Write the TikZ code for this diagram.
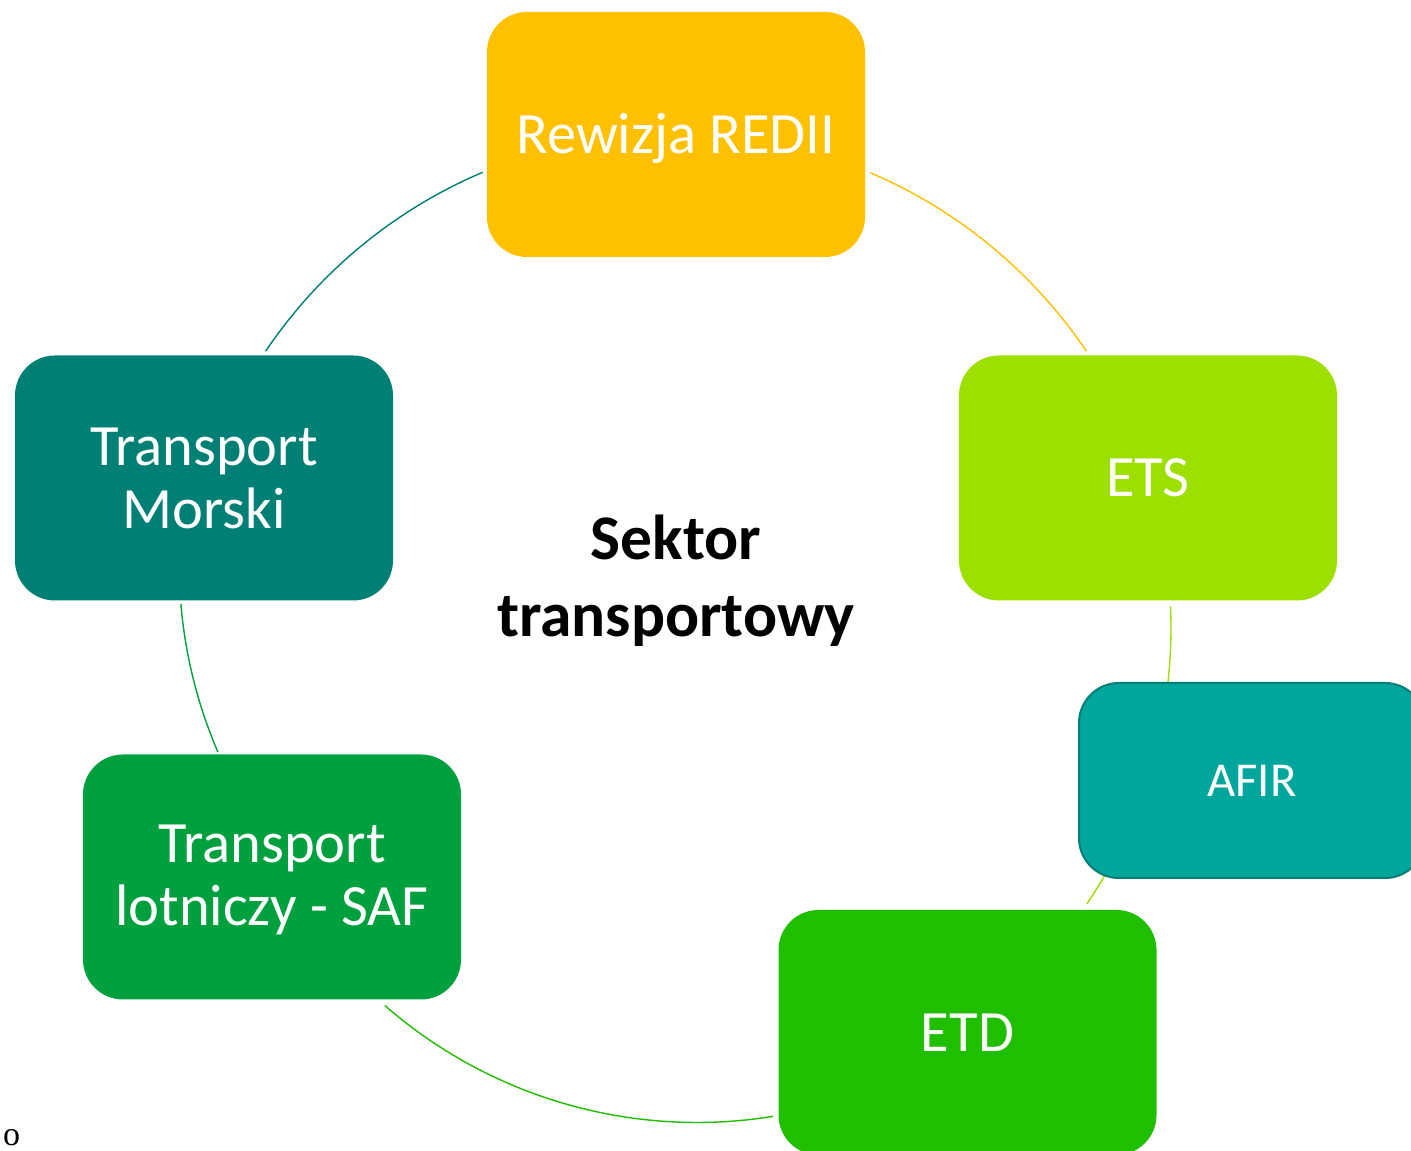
\documentclass[tikz,border=0pt]{standalone}
\usepackage{fontspec}
\setmainfont{Carlito}
\newfontfamily\strayfont{Liberation Serif}
\usetikzlibrary{calc}
\definecolor{cRed}{HTML}{FFC000}
\definecolor{cEts}{HTML}{9CDF00}
\definecolor{cAfir}{HTML}{00A59B}
\definecolor{cAfirB}{HTML}{007D75}
\definecolor{cEtd}{HTML}{1FBF00}
\definecolor{cSaf}{HTML}{00A03E}
\definecolor{cMor}{HTML}{007F74}
\tikzset{
  x=1pt,y=1pt,
  boxnode/.style={rounded corners=40pt, minimum width=378pt, minimum height=245pt,
    inner sep=0pt, text=white, align=center, font=\fontsize{58.5}{63}\selectfont},
  onelinebox/.style={boxnode, text height=37.7pt, text depth=0pt},
  ring/.style={line width=1.4pt},
}
\begin{document}
\begin{tikzpicture}
\useasboundingbox (0,0) rectangle (1411,1151);
\clip (0,0) rectangle (1411,1151);
\fill[white] (0,0) rectangle (1411,1151);
\coordinate (c) at (676,523);
\coordinate (cb) at (697,503.5);
\coordinate (cl) at (654.2,586.7);
\def\R{495}
% ring segments
\draw[ring, cRed] ([shift={(66.9:\R)}]c) arc[start angle=66.9, end angle=34.0, radius=\R];
\draw[ring, cEts] ([shift={(2.5:\R)}]c) arc[start angle=2.5, end angle=-33.9, radius=\R];
\draw[ring, cEtd] ([shift={(-80.8:475)}]cb) arc[start angle=-80.8, end angle=-131.1, radius=475];
\draw[ring, cSaf] ([shift={(-156.7:475)}]cl) arc[start angle=-156.7, end angle=-175.2, radius=475];
\draw[ring, cMor] ([shift={(146:\R)}]c) arc[start angle=146, end angle=113, radius=\R];
% boxes
\node[onelinebox, fill=cRed] (red) at (676,1016.5) {Rewizja REDII};
\node[onelinebox, fill=cEts] (ets) at (1148,673) {ETS};
\node[onelinebox, fill=cAfir, draw=cAfirB, line width=2pt, minimum width=346pt, minimum height=195pt,
      font=\fontsize{48.7}{54}\selectfont, text height=31.4pt] (afir) at (1252,370.5) {AFIR};
\node[onelinebox, fill=cEtd] (etd) at (967.5,118.5) {ETD};
\node[boxnode, fill=cSaf] (saf) at (272,274) {};
\node[white, align=center, font=\fontsize{58.5}{63}\selectfont] (saftext) at ([yshift=-3pt]saf.center) {Transport\\lotniczy - SAF};
\node[boxnode, fill=cMor] (mor) at (204,673) {Transport\\Morski};
% centre
\node[align=center, font=\fontsize{63.5}{77}\selectfont\bfseries, text=black] (sektor) at (676,570) {Sektor\\transportowy};
% stray glyph
\node[anchor=base west, inner sep=0pt, font=\strayfont\fontsize{34}{40}\selectfont] (stray) at (3,5) {o};
\end{tikzpicture}
\end{document}
